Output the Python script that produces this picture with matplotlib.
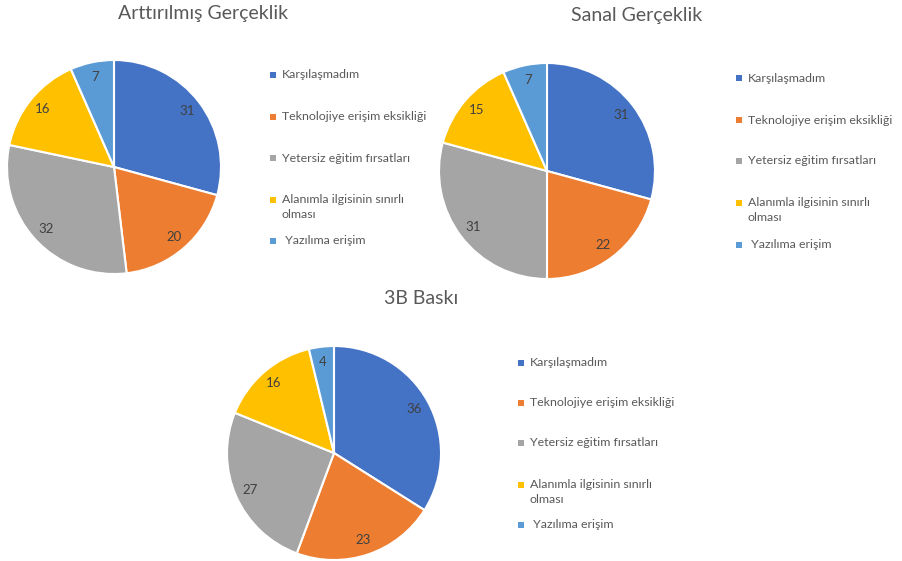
import matplotlib
matplotlib.use("Agg")
import matplotlib.pyplot as plt
from matplotlib.patches import Rectangle

plt.rcParams['font.family'] = ['Lato', 'DejaVu Sans']

categories = ["Karşılaşmadım", "Teknolojiye erişim eksikliği", "Yetersiz eğitim fırsatları",
              "Alanımla ilgisinin sınırlı\nolması", " Yazılıma erişim"]
colors = ["#4472C4", "#ED7D31", "#A5A5A5", "#FFC000", "#5B9BD5"]

titles = ["Arttırılmış Gerçeklik", "Sanal Gerçeklik", "3B Baskı"]
ar_values = [31, 20, 32, 16, 7]
vr_values = [31, 22, 31, 15, 7]
print3d_values = [36, 23, 27, 16, 4]
series = [ar_values, vr_values, print3d_values]

W, H = 902, 561
fig = plt.figure(figsize=(W / 100, H / 100), dpi=100)
fig.patch.set_facecolor("white")

# layout in pixels: pie center, radius, title pos, legend marker x, legend item ys
layouts = [
    dict(c=(114, 167), r=107, title=(203, 14), lx=273, ly=[75, 117, 158, 200, 241]),
    dict(c=(547, 171), r=108, title=(637, 16), lx=739, ly=[78, 120, 161, 203, 245]),
    dict(c=(334, 453), r=107, title=(421, 299), lx=521, ly=[363, 403, 443, 485, 525]),
]

def fx(x):
    return x / W

def fy(y):
    return 1 - y / H

for title, vals, L in zip(titles, series, layouts):
    cx, cy = L["c"]
    r = L["r"]
    ax = fig.add_axes([fx(cx - r), fy(cy + r), 2 * r / W, 2 * r / H])
    wedges, texts = ax.pie(vals, colors=colors, startangle=90, counterclock=False,
                           labels=[str(v) for v in vals], labeldistance=0.86,
                           wedgeprops=dict(edgecolor="white", linewidth=1.5),
                           textprops=dict(color="#404040", fontsize=9.5,
                                          ha="center", va="center"))
    for t in texts:
        t.set_horizontalalignment("center")
    ax.set_xlim(-1, 1)
    ax.set_ylim(-1, 1)
    ax.set_aspect("equal")
    ax.axis("off")
    tx, ty = L["title"]
    fig.text(fx(tx), fy(ty), title, ha="center", va="center", fontsize=14, color="#595959")
    for cat, col, y in zip(categories, colors, L["ly"]):
        fig.patches.append(Rectangle((fx(L["lx"] - 3), fy(y + 3)), 6 / W, 6 / H,
                                     transform=fig.transFigure, facecolor=col,
                                     edgecolor="none"))
        multi = "\n" in cat
        fig.text(fx(L["lx"] + 9), fy(y - 6) if multi else fy(y), cat, ha="left",
                 va="top" if multi else "center",
                 fontsize=8.9, color="#595959", linespacing=1.4)

fig.savefig("out.png", dpi=100, facecolor="white")
